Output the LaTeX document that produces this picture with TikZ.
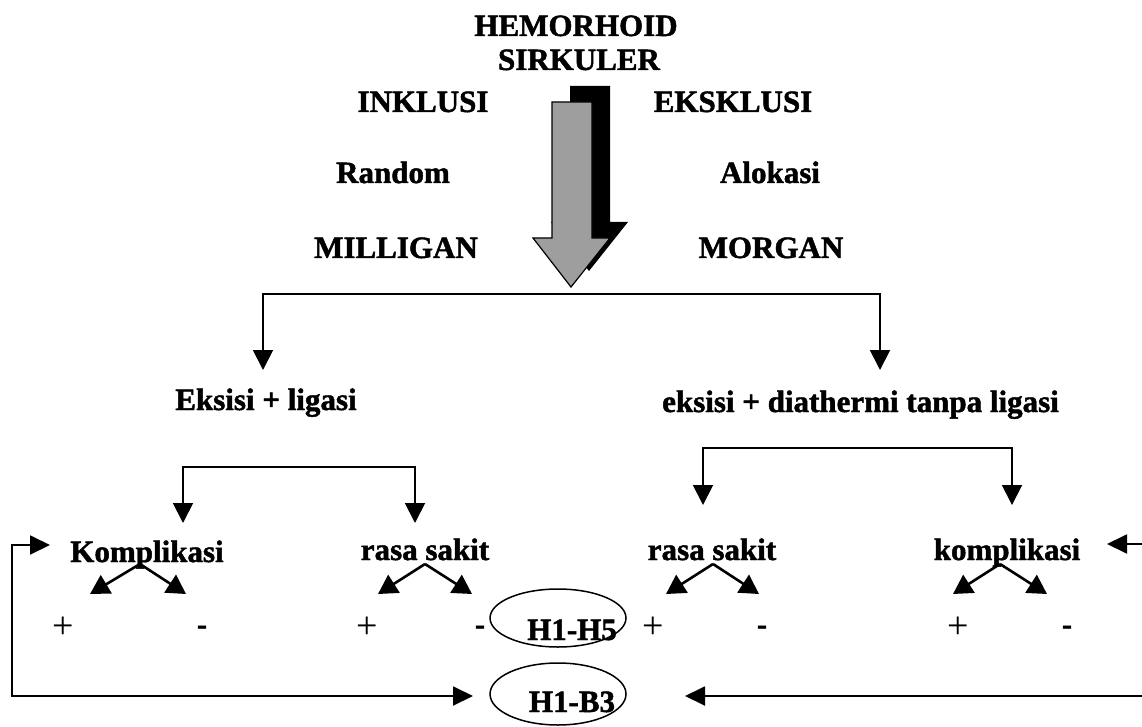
\documentclass[tikz,border=0pt]{standalone}
\usepackage{fontspec}
\setmainfont{Liberation Serif}[BoldFeatures={FakeBold=1.5}]
\usetikzlibrary{arrows.meta,shapes.geometric}
\begin{document}
\begin{tikzpicture}[x=1pt,y=-1pt,
  txt/.style={font=\fontsize{31}{31}\selectfont\bfseries, inner sep=0pt, anchor=base},
  sgn/.style={font=\fontsize{38}{38}\selectfont, inner sep=0pt},
  bsgn/.style={font=\fontsize{30}{30}\selectfont\bfseries, inner sep=0pt},
  conn/.style={line width=1.9pt, -{Triangle[length=20pt,width=20pt]}},
  side/.style={line width=1.9pt, -{Triangle[length=20pt,width=19pt]}},
  fork/.style={line width=2.6pt, -{Triangle[length=19pt,width=21pt]}},
  ell/.style={draw, ellipse, line width=1.5pt, inner sep=0pt, minimum width=136pt}]
\useasboundingbox (0,0) rectangle (1142,727);

% titles
\node[txt] (hem) at (576,36) {HEMORHOID};
\node[txt] (sir) at (579,70) {SIRKULER};
\node[txt] (ink) at (423,112) {INKLUSI};
\node[txt] (eks) at (733,112) {EKSKLUSI};
\node[txt] (ran) at (393,183) {Random};
\node[txt] (alo) at (770,183) {Alokasi};
\node[txt] (mil) at (396,258) {MILLIGAN};
\node[txt] (mor) at (771,258) {MORGAN};

% big arrow with shadow
\fill[black] (570,86) -- (610,86) -- (610,222) -- (628,222) -- (589,271) -- (551,222) -- (570,222) -- cycle;
\draw[line width=1.2pt, fill=black!38] (552,102) -- (592,102) -- (592,238) -- (610,238) -- (571,287) -- (533,238) -- (552,238) -- cycle;

% first split
\coordinate (tc) at (571,294);
\coordinate (eL) at (263,370);
\coordinate (eR) at (880,370);
\draw[conn] (tc) -| (eL);
\draw[conn] (tc) -| (eR);

\node[txt] (lig) at (266,410) {Eksisi + ligasi};
\node[txt, anchor=base west] (dia) at (662,412) {eksisi + diathermi tanpa ligasi};

% second level brackets
\coordinate (lb) at (299,467);
\coordinate (lbL) at (183,523);
\coordinate (lbR) at (415,523);
\draw[conn] (lb) -| (lbL);
\draw[conn] (lb) -| (lbR);
\coordinate (rb) at (857,448);
\coordinate (rbL) at (703,505);
\coordinate (rbR) at (1012,505);
\draw[conn] (rb) -| (rbL);
\draw[conn] (rb) -| (rbR);

\node[txt] (k1) at (147,562) {Komplikasi};
\node[txt] (r1) at (425,560) {rasa sakit};
\node[txt] (r2) at (712,560) {rasa sakit};
\node[txt] (k2) at (1007,560) {komplikasi};

% forks
\coordinate (a1) at (140,564);
\coordinate (a2) at (425,564);
\coordinate (a3) at (713,564);
\coordinate (a4) at (1000,564);
\coordinate (t1l) at (90,594);  \coordinate (t1r) at (186,594);
\coordinate (t2l) at (378,594); \coordinate (t2r) at (472,594);
\coordinate (t3l) at (666,594); \coordinate (t3r) at (759,594);
\coordinate (t4l) at (953,594); \coordinate (t4r) at (1047,594);
\draw[fork] (a1) -- (t1l); \draw[fork] (a1) -- (t1r);
\draw[fork] (a2) -- (t2l); \draw[fork] (a2) -- (t2r);
\draw[fork] (a3) -- (t3l); \draw[fork] (a3) -- (t3r);
\draw[fork] (a4) -- (t4l); \draw[fork] (a4) -- (t4r);

% signs
\node[sgn] (p1) at (63,628) {+};
\node[bsgn] (m1) at (202,630) {-};
\node[sgn] (p2) at (367,628) {+};
\node[bsgn] (m2) at (480,630) {-};
\node[sgn] (p3) at (653,628) {+};
\node[bsgn] (m3) at (762,630) {-};
\node[sgn] (p4) at (958,628) {+};
\node[bsgn] (m4) at (1067,630) {-};

% ellipses
\node[ell, minimum height=58pt] (h15) at (558,618) {};
\node[txt] (h15t) at (572,640) {H1-H5};
\node[ell, minimum height=62pt] (hb3) at (558,694) {};
\node[txt] (hb3t) at (572,712) {H1-B3};

% feedback loops
\coordinate (lv) at (12,620);
\coordinate (lk) at (50,545);
\coordinate (lh) at (473,696);
\draw[side] (lv) |- (lk);
\draw[side] (lv) |- (lh);
\coordinate (rs1) at (1142,544);
\coordinate (rk) at (1107,544);
\coordinate (rs2) at (1142,696);
\coordinate (rh) at (685,696);
\draw[side] (rs1) -- (rk);
\draw[side] (rs2) -- (rh);
\end{tikzpicture}
\end{document}
